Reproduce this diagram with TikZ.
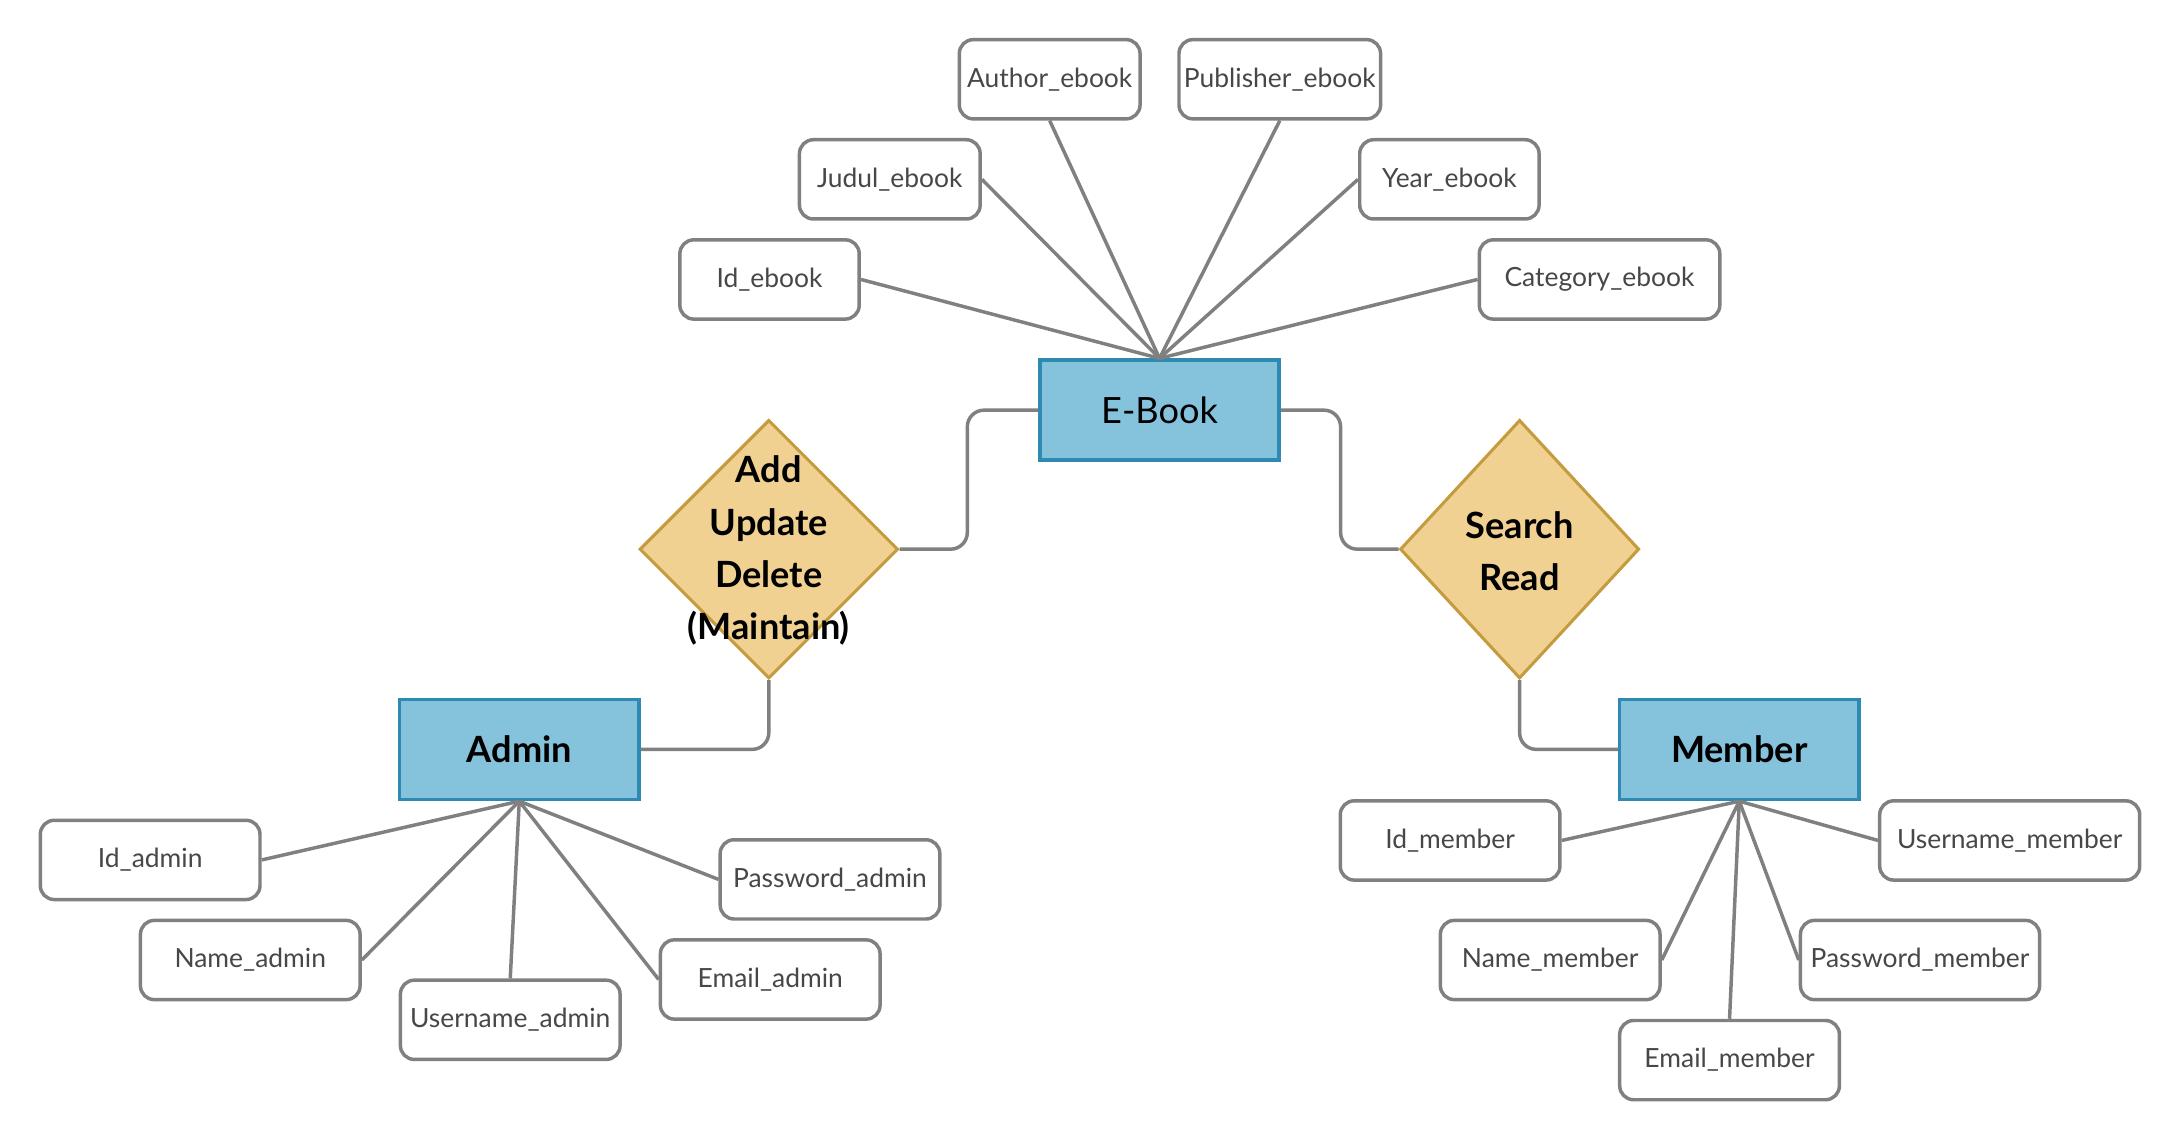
\documentclass[tikz,border=0pt]{standalone}
\usepackage{fontspec}
\setmainfont{Lato}
\usetikzlibrary{shapes.geometric}
\definecolor{entfill}{HTML}{85C2DB}
\definecolor{entdraw}{HTML}{2E8AB0}
\definecolor{relfill}{HTML}{F0D191}
\definecolor{reldraw}{HTML}{C49B3E}
\definecolor{linegray}{HTML}{808080}
\definecolor{attrtext}{HTML}{474747}
\begin{document}
\begin{tikzpicture}[x=0.5pt,y=-0.5pt,
  entity/.style={draw=entdraw, fill=entfill, line width=1.25pt, minimum width=86pt, minimum height=36pt, inner sep=0pt, font=\fontsize{13}{15}\selectfont},
  bentity/.style={entity, font=\bfseries\fontsize{13}{15}\selectfont},
  attr/.style={draw=linegray, rounded corners=5pt, line width=1.25pt, minimum height=28.5pt, minimum width=79pt, inner sep=0pt, text=attrtext, font=\fontsize{9.5}{11}\selectfont, fill=white},
  rel/.style={diamond, draw=reldraw, fill=relfill, line width=1.1pt, inner sep=0pt},
  reltext/.style={align=center, inner sep=0pt, font=\bfseries\fontsize{13}{18.75}\selectfont},
  conn/.style={draw=linegray, line width=1.25pt},
  elbow/.style={conn, rounded corners=6pt}
  ]
\useasboundingbox (0,0) rectangle (1568,820);
% entities
\node[entity] (ebook) at (834,295) {E-Book};
\node[bentity] (admin) at (373.5,539) {Admin};
\node[bentity] (member) at (1251,539) {Member};
% relationships
\node[rel, minimum width=93pt, minimum height=93pt] (r1) at (553,395) {};
\node[reltext] (r1t) at (553,396) {Add\\Update\\Delete\\(Maintain)};
\node[rel, minimum width=86pt, minimum height=93pt] (r2) at (1093,395) {};
\node[reltext] (r2t) at (1093,396.5) {Search\\Read};
% ebook attributes
\node[attr, minimum width=65pt] (author) at (755,57) {Author\_ebook};
\node[attr, minimum width=72.5pt] (publisher) at (920.5,57) {Publisher\_ebook};
\node[attr, minimum width=65pt] (judul) at (640,129) {Judul\_ebook};
\node[attr, minimum width=64.5pt] (year) at (1042.5,129) {Year\_ebook};
\node[attr, minimum width=64.5pt] (idebook) at (553.5,201) {Id\_ebook};
\node[attr, minimum width=86.5pt] (category) at (1150.5,201) {Category\_ebook};
% admin attributes
\node[attr] (idadmin) at (108,618.5) {Id\_admin};
\node[attr] (nameadmin) at (180,690.5) {Name\_admin};
\node[attr] (useradmin) at (367,733.5) {Username\_admin};
\node[attr] (emailadmin) at (554,704.5) {Email\_admin};
\node[attr] (passadmin) at (597,632.5) {Password\_admin};
% member attributes
\node[attr] (idmember) at (1043,604.5) {Id\_member};
\node[attr] (namemember) at (1115,690.5) {Name\_member};
\node[attr] (emailmember) at (1244,762.5) {Email\_member};
\node[attr, minimum width=86pt] (passmember) at (1381,690.5) {Password\_member};
\node[attr, minimum width=93.5pt] (usermember) at (1445.5,604.5) {Username\_member};
% ebook attribute links
\draw[conn] (ebook.north) -- (idebook.east);
\draw[conn] (ebook.north) -- (judul.east);
\draw[conn] (ebook.north) -- (author.south);
\draw[conn] (ebook.north) -- (publisher.south);
\draw[conn] (ebook.north) -- (year.west);
\draw[conn] (ebook.north) -- (category.west);
% admin attribute links
\draw[conn] (admin.south) -- (idadmin.east);
\draw[conn] (admin.south) -- (nameadmin.east);
\draw[conn] (admin.south) -- (useradmin.north);
\draw[conn] (admin.south) -- (emailadmin.west);
\draw[conn] (admin.south) -- (passadmin.west);
% member attribute links
\draw[conn] (member.south) -- (idmember.east);
\draw[conn] (member.south) -- (namemember.east);
\draw[conn] (member.south) -- (emailmember.north);
\draw[conn] (member.south) -- (passmember.west);
\draw[conn] (member.south) -- (usermember.west);
% relationship links
\draw[elbow] (ebook.west) -- ++(-51,0) |- (r1.east);
\draw[elbow] (r1.south) |- (admin.east);
\draw[elbow] (ebook.east) -- ++(43,0) |- (r2.west);
\draw[elbow] (r2.south) |- (member.west);
\end{tikzpicture}
\end{document}
